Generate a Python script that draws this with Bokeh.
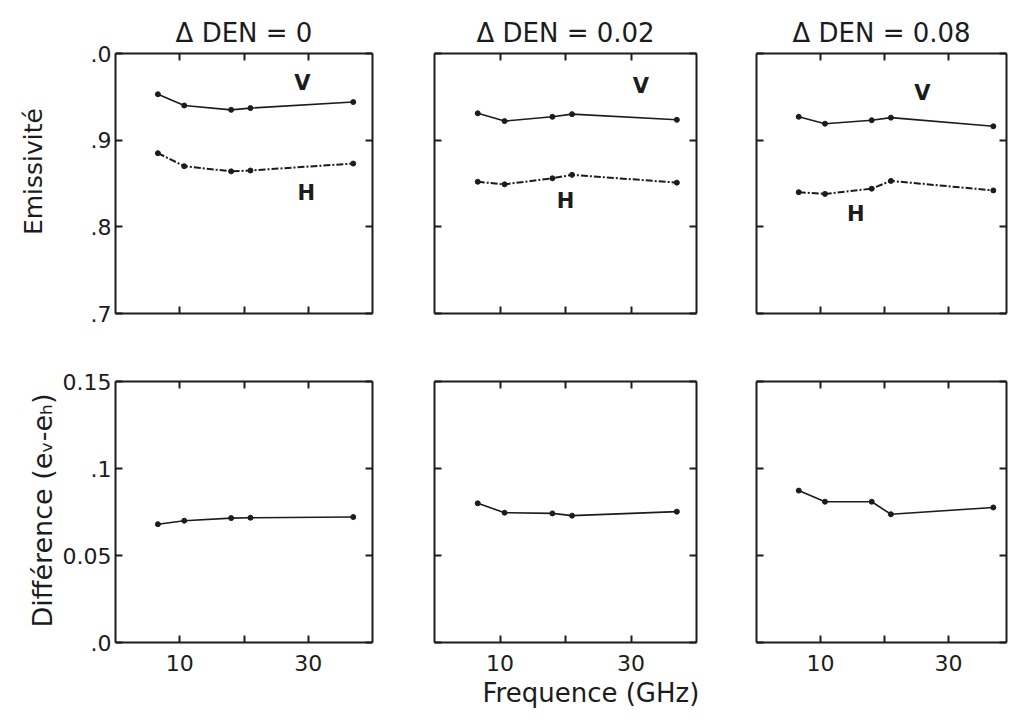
from bokeh.plotting import figure
from bokeh.models import Range1d, LinearAxis, FixedTicker, Title
from bokeh.layouts import column, row
from bokeh.embed import file_html
from bokeh.resources import INLINE
from bokeh.core.properties import value

# ---------------- data ----------------
freq_ghz = [6.6, 10.7, 18.0, 21.0, 37.0]
panel_titles = ["Δ DEN = 0", "Δ DEN = 0.02", "Δ DEN = 0.08"]

emis_v_den0 = [0.953, 0.940, 0.935, 0.937, 0.944]
emis_h_den0 = [0.885, 0.870, 0.864, 0.865, 0.873]
emis_v_den002 = [0.931, 0.922, 0.927, 0.930, 0.9235]
emis_h_den002 = [0.852, 0.849, 0.856, 0.860, 0.851]
emis_v_den008 = [0.927, 0.919, 0.923, 0.926, 0.916]
emis_h_den008 = [0.840, 0.838, 0.844, 0.853, 0.842]

diff_den0 = [0.068, 0.070, 0.0715, 0.0717, 0.0721]
diff_den002 = [0.080, 0.0746, 0.0742, 0.0729, 0.0752]
diff_den008 = [0.0873, 0.0809, 0.0809, 0.0737, 0.0776]

x_ticks = [10, 20, 30]
x_tick_labels = {10: "10", 20: "", 30: "30"}
emis_ticks = [0.7, 0.8, 0.9, 1.0]
emis_tick_labels = {0.7: ".7", 0.8: ".8", 0.9: ".9", 1.0: ".0"}
diff_ticks = [0.0, 0.05, 0.1, 0.15]
diff_tick_labels = {0.0: ".0", 0.05: "0.05", 0.1: ".1", 0.15: "0.15"}

emis_label = "Emissivité"
diff_label = "Différence (eᵥ-eₕ)"
freq_label = "Frequence  (GHz)"
curve_names = ["V", "H"]

# ---------------- layout / style ----------------
FONT = "DejaVu Sans"
INK = "#1c1c1c"
x_ends = [40.0, 40.0, 39.06]
frame_w = [257, 262, 250]
border_l = [115, 50, 50]
border_r = [12, 10, 4]
top_fh, bot_fh = 260, 261
top_bt, top_bb = 53, 20
bot_bt, bot_bb = 48, 82
EMIS_LABEL_PAD = "\u00a0\u00a0\u00a0"   # lifts the centred y label slightly

# in-plot V / H label anchor positions (data coords) per column
v_label_pos = [(29.1, 0.9665), (31.5, 0.963), (25.9, 0.954)]
h_label_pos = [(29.7, 0.8396), (20.0, 0.830), (15.5, 0.815)]


def style_axis(ax, ticks, labels, show, standoff=4):
    ax.ticker = FixedTicker(ticks=ticks)
    if show:
        ax.major_label_overrides = labels
        ax.major_label_text_font_size = "22px"
        ax.major_label_standoff = standoff
    else:
        ax.major_label_overrides = {t: "" for t in ticks}
        ax.major_label_text_font_size = "1px"
        ax.major_label_standoff = 0
    ax.major_label_text_font = FONT
    ax.major_label_text_color = INK
    ax.major_tick_in = 7
    ax.major_tick_out = 0
    ax.minor_tick_line_color = None
    ax.axis_line_width = 2
    ax.axis_line_color = INK
    ax.major_tick_line_width = 2
    ax.major_tick_line_color = INK
    ax.axis_label_text_font = FONT
    ax.axis_label_text_font_size = "25px"
    ax.axis_label_text_font_style = "normal"
    ax.axis_label_text_color = INK


def side_title(text, size, offset, standoff, align="left"):
    return Title(text=text, align=align, offset=offset, text_font=FONT,
                 text_font_size=size, text_font_style="normal",
                 text_color=INK, standoff=standoff)


def make_panel(col, top):
    if top:
        yr = Range1d(0.7, 1.0)
        fh, bt, bb = top_fh, top_bt, top_bb
        yticks, ylabels = emis_ticks, emis_tick_labels
    else:
        yr = Range1d(0.0, 0.15)
        fh, bt, bb = bot_fh, bot_bt, bot_bb
        yticks, ylabels = diff_ticks, diff_tick_labels
    p = figure(frame_width=frame_w[col], frame_height=fh,
               x_range=Range1d(0, x_ends[col]), y_range=yr,
               min_border_left=border_l[col], min_border_right=border_r[col],
               min_border_top=bt, min_border_bottom=bb,
               toolbar_location=None, output_backend="svg",
               title=panel_titles[col] if top else None)
    p.grid.visible = False
    p.outline_line_color = None
    p.background_fill_color = "white"
    p.border_fill_color = "white"

    style_axis(p.xaxis[0], x_ticks, x_tick_labels, show=not top, standoff=12)
    style_axis(p.yaxis[0], yticks, ylabels, show=(col == 0), standoff=4)
    ax_top = LinearAxis()
    style_axis(ax_top, x_ticks, x_tick_labels, show=False)
    p.add_layout(ax_top, "above")
    ax_right = LinearAxis()
    style_axis(ax_right, yticks, ylabels, show=False)
    p.add_layout(ax_right, "right")

    if top:
        p.title.align = "center"
        p.title.text_font = FONT
        p.title.text_font_size = "26px"
        p.title.text_font_style = "normal"
        p.title.text_color = INK
        p.title.standoff = 12
        if col == 0:
            p.yaxis[0].axis_label = EMIS_LABEL_PAD + emis_label
            p.yaxis[0].axis_label_standoff = 40
    else:
        if col == 0:
            p.add_layout(side_title(diff_label, "27px", 15, 4), "left")
        if col == 1:
            p.add_layout(side_title(freq_label, "26px", 48, 4), "below")
    return p


top_v = [emis_v_den0, emis_v_den002, emis_v_den008]
top_h = [emis_h_den0, emis_h_den002, emis_h_den008]
bottom_d = [diff_den0, diff_den002, diff_den008]

top_figs, bot_figs = [], []
for c in range(3):
    p = make_panel(c, True)
    p.line(freq_ghz, top_v[c], line_color=INK, line_width=1.6)
    p.scatter(freq_ghz, top_v[c], size=5, fill_color=INK, line_color=INK)
    p.line(freq_ghz, top_h[c], line_color=INK, line_width=2, line_dash="7 2 2 2")
    p.scatter(freq_ghz, top_h[c], size=5, fill_color=INK, line_color=INK)
    p.text(x=[v_label_pos[c][0], h_label_pos[c][0]],
           y=[v_label_pos[c][1], h_label_pos[c][1]],
           text=curve_names, text_font=value(FONT), text_font_size="21px",
           text_font_style="bold", text_align="center", text_baseline="middle",
           text_color=INK)
    top_figs.append(p)

    q = make_panel(c, False)
    q.line(freq_ghz, bottom_d[c], line_color=INK, line_width=1.6)
    q.scatter(freq_ghz, bottom_d[c], size=5, fill_color=INK, line_color=INK)
    bot_figs.append(q)

layout = column(row(*top_figs), row(*bot_figs))
open("out.html", "w").write(file_html(layout, INLINE))
